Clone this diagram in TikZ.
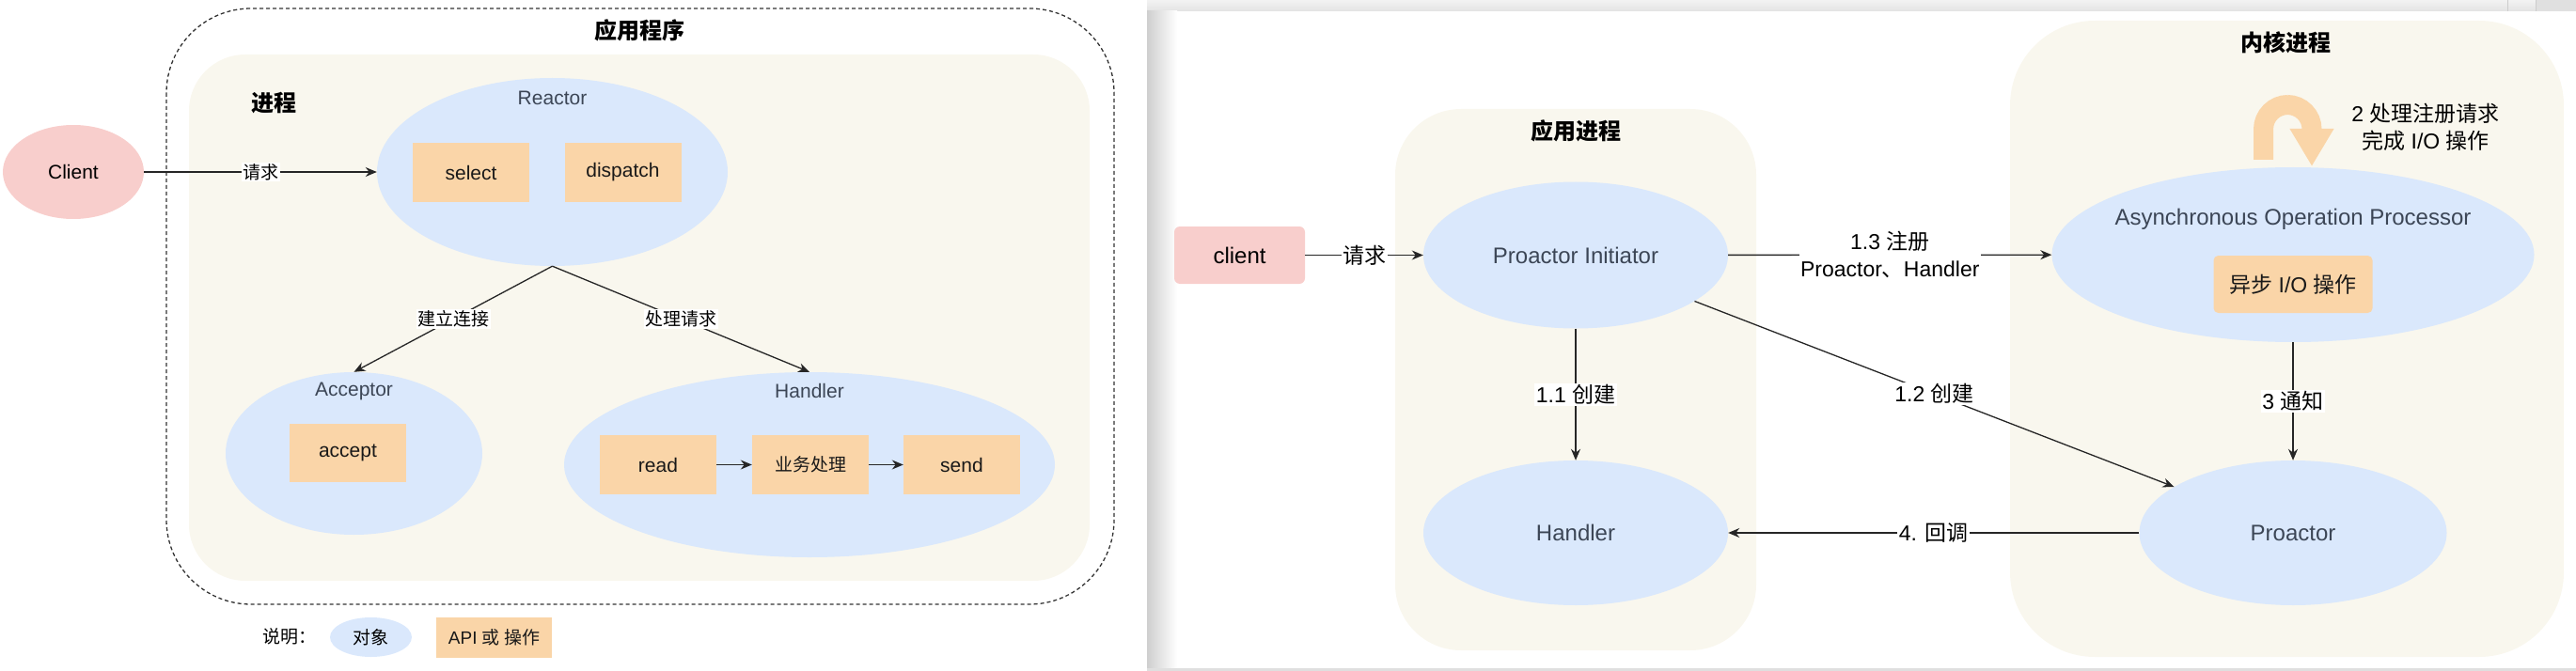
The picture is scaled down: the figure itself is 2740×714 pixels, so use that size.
\documentclass[tikz,border=0pt]{standalone}
\usepackage{fontspec}
\setmainfont{Liberation Sans}
\newfontfamily\cjk{Noto Sans CJK SC}
\usepackage{tikz}
\usetikzlibrary{arrows.meta,positioning,shapes.geometric}
\definecolor{objblue}{HTML}{DAE8FC}
\definecolor{apiorange}{HTML}{FAD5A8}
\definecolor{clientpink}{HTML}{F8CECC}
\definecolor{areacream}{HTML}{F9F7EE}
\definecolor{objtext}{HTML}{3C4656}
\newcommand{\zh}[1]{{\cjk #1}}
\newcommand{\fsleft}{\fontsize{21pt}{25pt}\selectfont}
\newcommand{\fssmall}{\fontsize{19pt}{23pt}\selectfont}
\newcommand{\fsright}{\fontsize{24pt}{28pt}\selectfont}
\newcommand{\fsrlabel}{\fontsize{23pt}{29pt}\selectfont}
\newcommand{\fstitle}{\fontsize{24pt}{28pt}\selectfont\cjk\bfseries}
\tikzset{
  obj/.style={ellipse,fill=objblue,inner sep=0pt},
  objtitle/.style={text=objtext,inner sep=0pt},
  api/.style={rectangle,fill=apiorange,minimum width=124pt,minimum height=62pt,inner sep=0pt,text=black!90},
  procarea/.style={fill=areacream},
  areatitle/.style={font=\fstitle,inner sep=0pt},
  dashframe/.style={draw=black!80,line width=1.3pt,dash pattern=on 4pt off 3pt,rounded corners=90pt},
  arr/.style={-{Stealth[length=12pt,width=10pt]},line width=1.3pt,draw=black!85},
  elbl/.style={fill=white,inner sep=1.5pt,font=\fssmall},
  looparrow/.style={line width=21pt,draw=apiorange,-{Triangle[length=40pt,width=44pt]},rounded corners=26pt},
}

\begin{document}
\begin{tikzpicture}[x=1pt,y=-1pt]
  \useasboundingbox (0,0) rectangle (2740,714);
  % reactor
  \begin{scope}[font=\fsleft]
    \draw[dashframe] (177,9) rectangle (1185,643);
    \fill[procarea,rounded corners=60pt] (201,58) rectangle (1159,618);
    \node[areatitle] (apptitle) at (680,32) {应用程序};
    \node[areatitle] (proctitle) at (291,110) {进程};
    \node[obj,fill=clientpink,minimum width=150pt,minimum height=100pt] (client) at (78,183) {Client};
    \node[obj,minimum width=373pt,minimum height=200pt] (reactor) at (587.5,183) {};
    \node[objtitle] (reactortitle) at (587.5,104) {Reactor};
    \node[api] (select) at (501,183.5) {select};
    \node[api] (dispatch) at (662.5,183.5) {dispatch};
    \node[obj,minimum width=273pt,minimum height=173pt] (acceptor) at (376.5,482.5) {};
    \node[objtitle] (acceptortitle) at (376.5,416) {Acceptor};
    \node[api] (accept) at (370,482) {accept};
    \node[obj,minimum width=522pt,minimum height=197pt] (handler) at (861,494.5) {};
    \node[objtitle] (handlertitle) at (861,416) {Handler};
    \node[api,minimum height=63pt] (read) at (700,494.5) {read};
    \node[api,minimum height=63pt,font=\fssmall\cjk] (biz) at (862,494.5) {业务处理};
    \node[api,minimum height=63pt] (send) at (1023,494.5) {send};
    \draw[arr] (client) -- node[elbl] {\zh{请求}} (reactor);
    \draw[arr] (reactor.south) -- node[elbl] {\zh{建立连接}} (acceptor.north);
    \draw[arr] (reactor.south) -- node[elbl] {\zh{处理请求}} (handler.north);
    \draw[arr] (read) -- (biz);
    \draw[arr] (biz) -- (send);
    \node[font=\fssmall] (legendlbl) at (308,677) {\zh{说明：}};
    \node[obj,minimum width=87pt,minimum height=42pt,font=\fssmall] (legendobj) at (394.5,678) {\zh{对象}};
    \node[api,minimum width=123pt,minimum height=43pt,font=\fssmall] (legendapi) at (525.5,678.5) {API \zh{或 操作}};
  \end{scope}
  % window edge
  \shade[top color=gray!10,bottom color=gray!22] (1220,0) rectangle (2740,12);
  \fill[gray!24] (2697,0) rectangle (2740,12);
  \draw[gray!40] (2667,0) -- (2667,12) (2697,0) -- (2697,12);
  \shade[left color=gray!38,right color=white] (1220,12) rectangle (1252,711);
  \fill[gray!25] (1220,711) rectangle (2740,714);
  % proactor
  \begin{scope}[font=\fsright,elbl/.append style={font=\fsrlabel}]
    \fill[procarea,rounded corners=70pt] (1484,116) rectangle (1868,692);
    \fill[procarea,rounded corners=90pt] (2138,22) rectangle (2727,699);
    \node[areatitle] (apptitle2) at (1676,139) {应用进程};
    \node[areatitle] (kerneltitle) at (2431,45.5) {内核进程};
    \node[rectangle,rounded corners=6pt,fill=clientpink,minimum width=139pt,minimum height=61pt] (clientbox) at (1318.5,271.5) {client};
    \node[obj,text=objtext,minimum width=324pt,minimum height=156pt] (initiator) at (1676,271.5) {Proactor Initiator};
    \node[obj,text=objtext,minimum width=324pt,minimum height=154pt] (hdl) at (1676,567) {Handler};
    \node[obj,minimum width=513pt,minimum height=186pt] (aop) at (2439,271) {};
    \node[objtitle] (aoptitle) at (2439,233) {Asynchronous Operation Processor};
    \node[api,rounded corners=5pt,minimum width=169pt,minimum height=61pt,font=\fsrlabel] (aio) at (2439,302.5) {\zh{异步} I/O \zh{操作}};
    \node[obj,text=objtext,minimum width=327pt,minimum height=154pt] (proactor) at (2439,567) {Proactor};
    \coordinate (loopin) at (2407.5,170);
    \coordinate (loopout) at (2459,177);
    \draw[looparrow] (loopin) -- (2407.5,111.5) -- (2459,111.5) -- (loopout);
    \node[align=center,font=\fsrlabel] (steptwo) at (2580,135.5) {2 \zh{处理注册请求}\\\zh{完成} I/O \zh{操作}};
    \draw[arr] (clientbox) -- node[elbl] {\zh{请求}} (initiator);
    \draw[arr] (initiator) -- node[elbl,align=center] {1.3 \zh{注册}\\Proactor\zh{、}Handler} (aop);
    \draw[arr] (initiator) -- node[elbl] {1.1 \zh{创建}} (hdl);
    \draw[arr] (initiator) -- node[elbl] {1.2 \zh{创建}} (proactor);
    \draw[arr] (aop) -- node[elbl] {3 \zh{通知}} (proactor);
    \draw[arr] (proactor) -- node[elbl] {4. \zh{回调}} (hdl);
  \end{scope}
\end{tikzpicture}
\end{document}
